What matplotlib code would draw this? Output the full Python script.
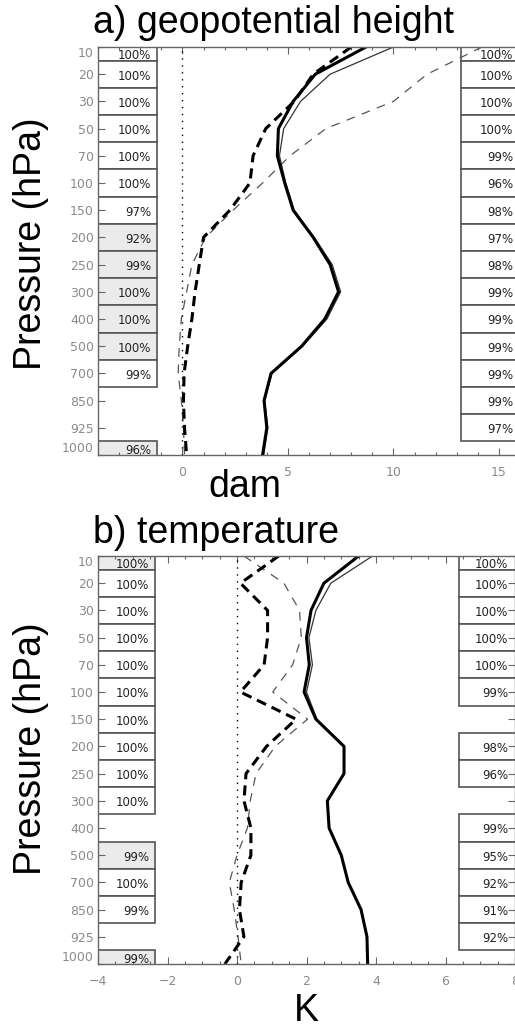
import matplotlib
matplotlib.use("Agg")
import matplotlib.pyplot as plt
import numpy as np
from matplotlib.patches import Rectangle
from matplotlib.ticker import MultipleLocator

levels = ["10", "20", "30", "50", "70", "100", "150", "200", "250", "300",
          "400", "500", "700", "850", "925", "1000"]

# a) geopotential height (dam)
z_thick = [8.7, 6.3, 5.25, 4.55, 4.5, 4.85, 5.25, 6.2, 7.0, 7.4, 6.75, 5.65, 4.2, 3.87, 4.0, 3.8]
z_thin = [10.0, 7.0, 5.6, 4.8, 4.6, 4.9, 5.3, 6.25, 7.1, 7.5, 6.85, 5.7, 4.25, 3.9, 4.05, 3.85]
z_dash = [8.0, 6.2, 5.3, 3.95, 3.35, 3.2, 2.25, 1.0, 0.8, 0.6, 0.45, 0.25, 0.08, 0.05, 0.1, 0.2]
z_tdash = [14.2, 11.6, 10.0, 6.8, 5.1, 3.8, 2.4, 1.1, 0.45, 0.2, -0.05, -0.15, -0.2, -0.05, 0.05, 0.1]
z_left = ["100%", "100%", "100%", "100%", "100%", "100%", "97%", "92%", "99%", "100%",
          "100%", "100%", "99%", None, None, "96%"]
z_left_grey = [False, False, False, False, False, False, False, True, True, True,
               True, True, False, False, False, True]
z_right = ["100%", "100%", "100%", "100%", "99%", "96%", "98%", "97%", "98%", "99%",
           "99%", "99%", "99%", "99%", "97%", None]

# b) temperature (K)
t_thick = [3.5, 2.5, 2.13, 2.0, 2.08, 1.93, 2.27, 3.08, 3.08, 2.6, 2.65, 3.0, 3.2, 3.57, 3.74, 3.76]
t_thin = [3.9, 2.7, 2.27, 2.07, 2.17, 2.0, 2.3, 3.08, 3.08, 2.6, 2.65, 3.0, 3.2, 3.57, 3.74, 3.76]
t_dash = [1.2, 0.1, 0.88, 0.88, 0.78, 0.1, 1.7, 0.85, 0.26, 0.2, 0.4, 0.4, 0.12, 0.07, 0.2, -0.35]
t_tdash = [0.2, 1.35, 1.8, 1.85, 1.6, 1.03, 2.03, 1.1, 0.55, 0.38, 0.3, 0.0, -0.22, -0.08, 0.03, 0.12]
t_left = ["100%", "100%", "100%", "100%", "100%", "100%", "100%", "100%", "100%", "100%",
          None, "99%", "100%", "99%", None, "99%"]
t_left_grey = [True, False, False, False, False, False, False, False, False, False,
               False, True, False, False, False, True]
t_right = ["100%", "100%", "100%", "100%", "100%", "99%", None, "98%", "96%", None,
           "99%", "95%", "92%", "91%", "92%", None]

GREY = "#8a8a8a"
EDGE = "#555555"


def boxes(ax, labels, grey, x0, x1, xtext):
    n = len(labels)
    for i, lab in enumerate(labels):
        if lab is None:
            continue
        fc = "#ebebeb" if grey is not None and grey[i] else "white"
        ax.add_patch(Rectangle((x0, i - 0.5), x1 - x0, 1.0, facecolor=fc,
                               edgecolor=EDGE, lw=1.2, zorder=1))
        dy = 0.07
        if i == 0:
            dy = 0.3
        elif i == n - 1:
            dy = -0.15
        ax.text(xtext, i + dy, lab, ha="right", va="center", fontsize=8.5,
                family="DejaVu Sans", color="#222222", clip_on=True, zorder=3)


def panel(ax, thick, thin, dash, tdash, xlim, major, minor, right_ticks):
    y = np.arange(len(levels))
    ax.plot(tdash, y, color="#555555", lw=0.9, ls=(0, (7, 6)), zorder=2)
    ax.plot(dash, y, color="black", lw=2.2, ls=(0, (3.3, 2.0)), zorder=2)
    ax.plot(thin, y, color="#333333", lw=0.9, zorder=2)
    ax.plot(thick, y, color="black", lw=2.2, zorder=2)
    ax.axvline(0, color="black", lw=1.0, ls=(0, (1, 4)), zorder=2)
    ax.set_xlim(*xlim)
    ax.set_ylim(len(levels) - 1, 0)
    ax.set_yticks(y)
    ax.set_yticklabels(levels)
    ax.xaxis.set_major_locator(MultipleLocator(major))
    ax.xaxis.set_minor_locator(MultipleLocator(minor))
    ax.tick_params(which="both", direction="in", top=True, right=right_ticks,
                   colors="#666666", labelcolor=GREY, labelsize=9, width=0.8)
    ax.tick_params(which="major", length=5)
    ax.tick_params(which="minor", length=2.5)
    ax.tick_params(axis="x", pad=8)
    ax.tick_params(axis="y", pad=3)
    for s in ax.spines.values():
        s.set_color("#666666")
        s.set_linewidth(1.0)
    labs = ax.get_yticklabels()
    labs[0].set_va("top")
    labs[-1].set_va("bottom")


fig = plt.figure(figsize=(5.15, 10.28), dpi=100)

ax1 = fig.add_axes([98 / 515, 1 - 455 / 1028, 422 / 515, 408 / 1028])
panel(ax1, z_thick, z_thin, z_dash, z_tdash, (-4, 16), 5, 1, False)
boxes(ax1, z_left, z_left_grey, -4, -1.2, -1.49)
boxes(ax1, z_right, None, 13.2, 17.0, 15.67)

ax2 = fig.add_axes([98 / 515, 1 - 964 / 1028, 417 / 515, 408 / 1028])
panel(ax2, t_thick, t_thin, t_dash, t_tdash, (-4, 8), 2, 0.5, True)
boxes(ax2, t_left, t_left_grey, -4, -2.36, -2.53)
boxes(ax2, t_right, None, 6.39, 9.0, 7.8)

big = dict(family="Liberation Sans", fontsize=27, color="black")
fig.text(93 / 515, 1 - 33 / 1028, "a) geopotential height", ha="left", va="baseline", **big)
fig.text(93 / 515, 1 - 543 / 1028, "b) temperature", ha="left", va="baseline", **big)
fig.text(31 / 515, 1 - 244 / 1028, "Pressure (hPa)", rotation=90, ha="center", va="center", **big)
fig.text(31 / 515, 1 - 749 / 1028, "Pressure (hPa)", rotation=90, ha="center", va="center", **big)
fig.text(245 / 515, 1 - 497 / 1028, "dam", ha="center", va="baseline", **big)
fig.text(306 / 515, 1 - 1021 / 1028, "K", ha="center", va="baseline", **big)

fig.savefig("out.png", dpi=100)
